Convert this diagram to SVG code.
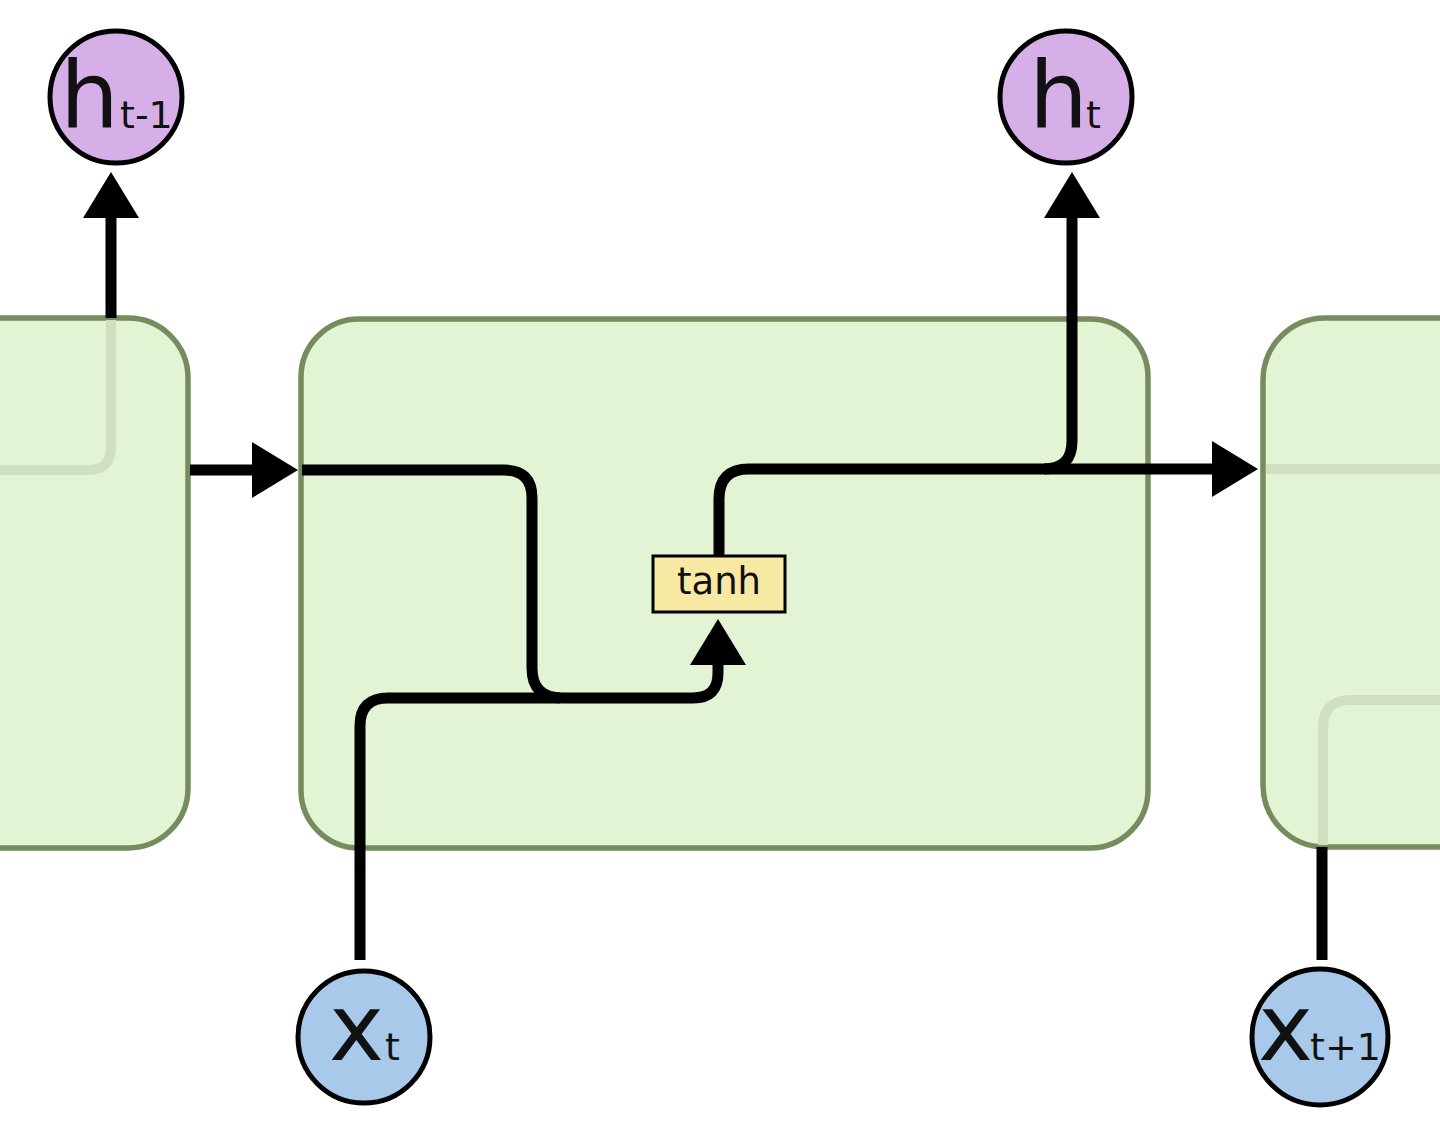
<svg xmlns="http://www.w3.org/2000/svg" width="1440" height="1132" viewBox="0 0 1440 1132">
<defs>
<style>
.cell{fill:#e2f4d3;stroke:#768c5f;stroke-width:5.5}
.ghost{fill:none;stroke:#cfdfbf;stroke-width:10}
.wire{fill:none;stroke:#000;stroke-width:11}
.hnode{fill:#d6afe9;stroke:#000;stroke-width:5}
.xnode{fill:#a9c9eb;stroke:#000;stroke-width:5}
.big{font-family:"DejaVu Sans",Verdana,sans-serif;font-size:93px;fill:#111}
.sub{font-family:"DejaVu Sans",Verdana,sans-serif;font-size:38px;fill:#111}
.lbl{font-family:"DejaVu Sans",Verdana,sans-serif;font-size:37px;fill:#111}
</style>
<marker id="arr" markerUnits="userSpaceOnUse" viewBox="0 0 46 56" markerWidth="46" markerHeight="56" refX="0" refY="28" orient="auto">
<path d="M0,0 L46,28 L0,56 z" fill="#000"/>
</marker>
</defs>
<rect width="1440" height="1132" fill="#fff"/>
<g id="cell_prev">
<rect class="cell" x="-70" y="318" width="258" height="530" rx="60"/>
<path class="ghost" d="M0,470 H88 Q111,470 111,447 V320"/>
</g>
<g id="cell_t">
<rect class="cell" x="301" y="319" width="847" height="529" rx="58"/>
</g>
<g id="cell_next">
<rect class="cell" x="1263" y="318" width="260" height="529" rx="62"/>
<path class="ghost" d="M1266,469 H1440"/>
<path class="ghost" d="M1323,845 V728 Q1323,700 1351,700 H1440"/>
</g>
<g id="connectors">
<path class="wire" d="M111,318 V218" marker-end="url(#arr)"/>
<path class="wire" d="M190,470 H252" marker-end="url(#arr)"/>
<path class="wire" d="M302,470 H504 Q532,470 532,498 V668 Q532,698 562,698 H693 Q718,698 718,673 V665" marker-end="url(#arr)"/>
<path class="wire" d="M360,960 V726 Q360,698 388,698 H560"/>
<path class="wire" d="M719,555 V499 Q719,469 749,469 H1212" marker-end="url(#arr)"/>
<path class="wire" d="M1044,469 Q1072,469 1072,441 V218" marker-end="url(#arr)"/>
<path class="wire" d="M1322,960 V847"/>
</g>
<g id="tanh">
<rect x="653" y="556" width="132" height="56" fill="#f7e9a4" stroke="#000" stroke-width="3"/>
<text class="lbl" x="719" y="594" text-anchor="middle">tanh</text>
</g>
<g id="h_prev">
<circle class="hnode" cx="116" cy="97" r="66"/>
<text class="big" x="60" y="128">h</text>
<text class="sub" x="120" y="128">t-1</text>
</g>
<g id="h_t">
<circle class="hnode" cx="1066" cy="97" r="66"/>
<text class="big" x="1029" y="128">h</text>
<text class="sub" x="1086" y="128">t</text>
</g>
<g id="x_t">
<circle class="xnode" cx="364" cy="1037" r="66"/>
<text class="big" x="329" y="1060">x</text>
<text class="sub" x="385" y="1060">t</text>
</g>
<g id="x_next">
<circle class="xnode" cx="1320" cy="1037" r="68"/>
<text class="big" x="1258" y="1060">x</text>
<text class="sub" x="1310" y="1060">t+1</text>
</g>
</svg>
